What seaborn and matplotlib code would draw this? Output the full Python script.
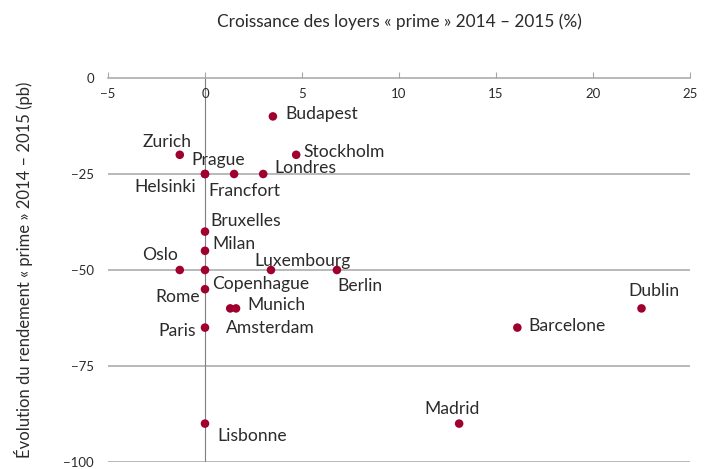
import matplotlib
matplotlib.use("Agg")
import matplotlib.pyplot as plt
import seaborn as sns
import pandas as pd

# Croissance des loyers vs évolution du rendement, 2014-2015
cities = ["Budapest", "Zurich", "Stockholm", "Helsinki", "Prague", "Francfort",
          "Londres", "Bruxelles", "Milan", "Oslo", "Copenhague", "Luxembourg",
          "Berlin", "Rome", "Munich", "Amsterdam", "Paris", "Lisbonne",
          "Madrid", "Barcelone", "Dublin"]
rent_growth = [3.5, -1.3, 4.7, 0.0, 0.0, 1.5,
               3.0, 0.0, 0.0, -1.3, 0.0, 3.4,
               6.8, 0.0, 1.6, 1.3, 0.0, 0.0,
               13.1, 16.1, 22.5]
yield_change = [-10, -20, -20, -25, -25, -25,
                -25, -40, -45, -50, -50, -50,
                -50, -55, -60, -60, -65, -90,
                -90, -65, -60]

# label placement (offset in pixels, horizontal alignment)
label_pos = {
    "Budapest": (12, 2, "left"), "Zurich": (12, 13, "right"),
    "Stockholm": (7, 3, "left"), "Helsinki": (-9, -13, "right"),
    "Prague": (13, 14, "center"), "Francfort": (-26, -17, "left"),
    "Londres": (11, 6, "left"), "Bruxelles": (5, 11, "left"),
    "Milan": (7, 7, "left"), "Oslo": (-2, 15, "right"),
    "Copenhague": (7, -14, "left"), "Luxembourg": (-17, 9, "left"),
    "Berlin": (0, -16, "left"), "Rome": (-5, -8, "right"),
    "Munich": (11, 3, "left"), "Amsterdam": (-4, -20, "left"),
    "Paris": (-9, -3, "right"), "Lisbonne": (12, -12, "left"),
    "Madrid": (-7, 15, "center"), "Barcelone": (11, 2, "left"),
    "Dublin": (12, 17, "center"),
}

df = pd.DataFrame({"ville": cities, "loyers": rent_growth, "rendement": yield_change})

sns.set_style("white")
plt.rcParams["font.family"] = ["Lato", "DejaVu Sans"]
text_color = "#2b2b2b"
grid_color = "#a6a6a6"
dot_color = "#a0002d"

fig = plt.figure(figsize=(7.13, 4.69), dpi=100)
ax = fig.add_axes([108 / 713, 1 - 462 / 469, 582 / 713, 384 / 469])

for v in [-25, -50, -75, -100]:
    ax.axhline(v, color=grid_color, lw=1.1, zorder=0)
ax.axvline(0, color="#7f7f7f", lw=0.8, zorder=0)

sns.scatterplot(data=df, x="loyers", y="rendement", ax=ax, color=dot_color,
                s=38, edgecolor="none", zorder=3, legend=False)

for name, xv, yv in zip(cities, rent_growth, yield_change):
    dx, dy, ha = label_pos[name]
    ax.annotate(name, (xv, yv), xytext=(dx, dy), textcoords="offset pixels",
                ha=ha, va="center", fontsize=12.6, color=text_color)

ax.set_xlim(-5, 25)
ax.set_ylim(-100, 0)
ax.set_xticks([-5, 0, 5, 10, 15, 20, 25])
ax.set_yticks([0, -25, -50, -75, -100])
ax.set_xlabel("")
ax.set_ylabel("Évolution du rendement « prime » 2014 – 2015 (pb)", fontsize=12,
              color=text_color, labelpad=22)

for side in ["left", "right", "bottom"]:
    ax.spines[side].set_visible(False)
ax.spines["top"].set_color(grid_color)
ax.spines["top"].set_linewidth(1.1)

ax.tick_params(axis="x", top=True, labeltop=True, bottom=False, labelbottom=False,
               direction="out", length=4, color=grid_color, pad=-20,
               labelsize=9.5, labelcolor=text_color)
ax.tick_params(axis="y", left=False, length=0, pad=10, labelsize=9.5,
               labelcolor=text_color)

fig.text(399 / 713, 1 - 22 / 469, "Croissance des loyers « prime » 2014 – 2015 (%)",
         ha="center", va="center", fontsize=12.4, color=text_color)

fig.savefig("out.png", dpi=100)
